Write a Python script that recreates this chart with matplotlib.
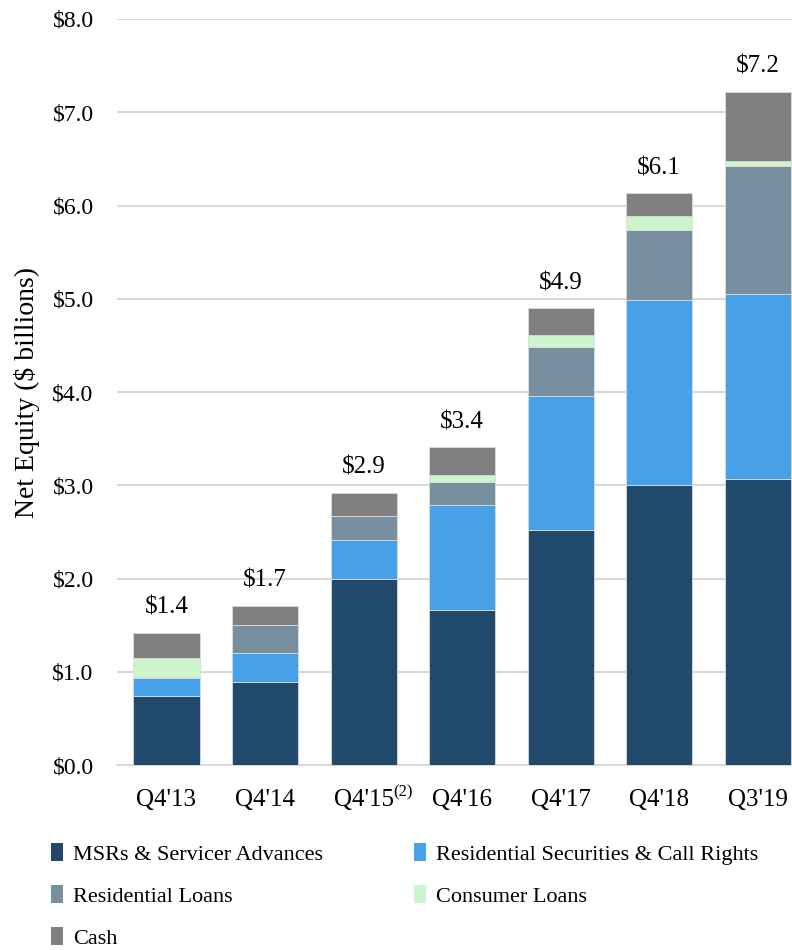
import numpy as np
import matplotlib.pyplot as plt
from matplotlib.patches import Patch

plt.rcParams['font.family'] = ['Liberation Serif', 'DejaVu Serif']

# data ($ billions)
quarters = ["Q4'13", "Q4'14", "Q4'15", "Q4'16", "Q4'17", "Q4'18", "Q3'19"]
msrs = [0.74, 0.89, 2.00, 1.66, 2.52, 3.00, 3.07]
res_sec = [0.19, 0.31, 0.41, 1.13, 1.44, 1.99, 1.98]
res_loans = [0.01, 0.30, 0.26, 0.24, 0.52, 0.75, 1.37]
consumer = [0.21, 0.00, -0.03, 0.08, 0.13, 0.15, 0.06]
cash = [0.27, 0.21, 0.25, 0.30, 0.29, 0.24, 0.74]
total_labels = ["$1.4", "$1.7", "$2.9", "$3.4", "$4.9", "$6.1", "$7.2"]

series = [
    ("MSRs & Servicer Advances", msrs, "#21496b"),
    ("Residential Securities & Call Rights", res_sec, "#46a1e8"),
    ("Residential Loans", res_loans, "#788f9f"),
    ("Consumer Loans", consumer, "#ccf5cc"),
    ("Cash", cash, "#808080"),
]

fig = plt.figure(figsize=(7.92, 9.5), dpi=100)
ax = fig.add_axes([0.148, 0.1947, 0.871, 0.7853])

x = np.arange(len(quarters))
pos_base = np.zeros(len(quarters))
neg_base = np.zeros(len(quarters))
handles = []
for name, vals, col in series:
    vals = np.array(vals, dtype=float)
    bottoms = np.where(vals >= 0, pos_base, neg_base)
    ax.bar(x, vals, 0.67, bottom=bottoms, color=col, edgecolor='#dcdcdc',
           linewidth=0.6, zorder=3)
    pos_base = pos_base + np.where(vals >= 0, vals, 0)
    neg_base = neg_base + np.where(vals < 0, vals, 0)
    handles.append(Patch(facecolor=col, label=name))

for i, lab in enumerate(total_labels):
    ax.annotate(lab, (x[i], pos_base[i]), xytext=(0, 10), textcoords='offset points',
                ha='center', va='bottom', fontsize=18)

ax.set_ylim(0, 8)
ax.set_xlim(-0.5, len(quarters) - 0.5)
ax.set_yticks(np.arange(0, 9, 1))
ax.set_yticklabels(['$%.1f' % v for v in np.arange(0, 9, 1)], fontsize=17)
ax.set_xticks(x)
ax.set_xticklabels(quarters, fontsize=18)
ax.tick_params(axis='x', length=0, pad=17)
ax.tick_params(axis='y', length=0, pad=17)
# footnote marker on Q4'15
ax.annotate('(2)', (x[2], 0), xytext=(21, -14), textcoords='offset points',
            ha='left', va='top', fontsize=12)
ax.grid(axis='y', color='#d9d9d9', linewidth=1.5, zorder=0)
for s in ['left', 'right', 'top']:
    ax.spines[s].set_visible(False)
ax.spines['bottom'].set_color('#d9d9d9')
ax.spines['bottom'].set_linewidth(1.5)
ax.set_ylabel('Net Equity ($ billions)', fontsize=20, labelpad=9)

order = [0, 2, 4, 1, 3]
fig.legend([handles[i] for i in order], [handles[i].get_label() for i in order],
           loc='upper left', bbox_to_anchor=(0.053, 0.122), ncol=2, frameon=False,
           fontsize=16, handlelength=0.55, handleheight=0.9, handletextpad=0.45,
           columnspacing=4.1, labelspacing=0.9, borderaxespad=0)

fig.savefig('out.png', dpi=100)
